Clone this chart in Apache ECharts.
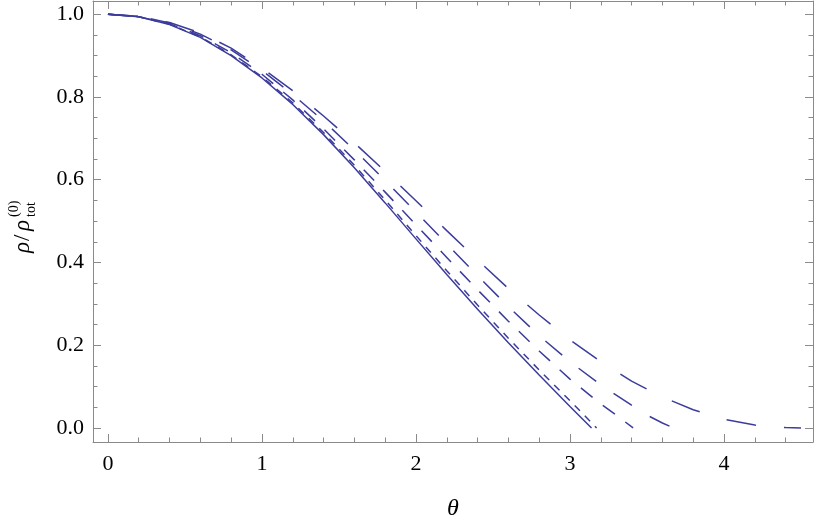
<!DOCTYPE html>
<html>
<head>
<meta charset="utf-8">
<script src="https://cdn.jsdelivr.net/npm/echarts@6/dist/echarts.min.js"></script>
<style>
html, body { margin: 0; padding: 0; background: #fff; }
#chart { width: 814px; height: 526px; }
</style>
</head>
<body>
<div id="chart"></div>
<script>
// values: theta -> rho / rho_tot^(0)
var thetaSolid = [0, 0.2, 0.4, 0.6, 0.8, 1.0, 1.2, 1.4, 1.6, 1.8, 2.0, 2.2, 2.4, 2.6, 2.8, 3.0, 3.14];
var rhoSolid   = [1.000, 0.994, 0.975, 0.944, 0.900, 0.846, 0.782, 0.709, 0.629, 0.544, 0.457, 0.371, 0.287, 0.206, 0.128, 0.052, 0.000];

var thetaDash1 = [0, 0.2, 0.4, 0.6, 0.8, 1.0, 1.2, 1.4, 1.6, 1.8, 2.0, 2.2, 2.4, 2.6, 2.8, 3.0, 3.173];
var rhoDash1   = [1.000, 0.994, 0.976, 0.945, 0.902, 0.849, 0.786, 0.714, 0.635, 0.551, 0.465, 0.380, 0.297, 0.217, 0.140, 0.066, 0.000];

var thetaDash2 = [0, 0.2, 0.4, 0.6, 0.8, 1.0, 1.2, 1.4, 1.6, 1.8, 2.0, 2.2, 2.4, 2.6, 2.8, 3.0, 3.2, 3.3, 3.41];
var rhoDash2   = [1.000, 0.994, 0.977, 0.948, 0.907, 0.855, 0.793, 0.723, 0.648, 0.570, 0.491, 0.412, 0.334, 0.258, 0.186, 0.118, 0.058, 0.031, 0.000];

var thetaDash3 = [0, 0.2, 0.4, 0.6, 0.8, 1.0, 1.2, 1.4, 1.6, 1.8, 2.0, 2.2, 2.4, 2.6, 2.8, 3.0, 3.2, 3.4, 3.5, 3.6, 3.66];
var rhoDash3   = [1.000, 0.995, 0.979, 0.952, 0.914, 0.864, 0.806, 0.742, 0.672, 0.598, 0.522, 0.445, 0.368, 0.293, 0.223, 0.160, 0.104, 0.055, 0.031, 0.012, 0.002];

var thetaDash4 = [0, 0.2, 0.4, 0.6, 0.8, 1.0, 1.2, 1.4, 1.6, 1.8, 2.0, 2.2, 2.4, 2.6, 2.8, 3.0, 3.2, 3.4, 3.6, 3.8, 4.0, 4.2, 4.4, 4.5];
var rhoDash4   = [1.000, 0.995, 0.980, 0.955, 0.918, 0.870, 0.815, 0.754, 0.689, 0.620, 0.549, 0.477, 0.406, 0.337, 0.273, 0.213, 0.160, 0.113, 0.075, 0.044, 0.021, 0.007, 0.001, 0.000];

var xMajor = [0, 1, 2, 3, 4];
var xMinor = [0.2, 0.4, 0.6, 0.8, 1.2, 1.4, 1.6, 1.8, 2.2, 2.4, 2.6, 2.8, 3.2, 3.4, 3.6, 3.8, 4.2, 4.4];
var yMajor = [0, 0.2, 0.4, 0.6, 0.8, 1.0];
var yMinor = [0.05, 0.1, 0.15, 0.25, 0.3, 0.35, 0.45, 0.5, 0.55, 0.65, 0.7, 0.75, 0.85, 0.9, 0.95];

var xMin = -0.097, xMax = 4.578;
var yMin = -0.034, yMax = 1.032;

var serif = '"Liberation Serif", "DejaVu Serif", serif';
var frameColor = '#8a8a8a';
var lineColor = '#3c3c9c';

function pairs(xs, ys) {
  return xs.map(function (x, i) { return [x, ys[i]]; });
}

// one frame side: ticks pointing inwards, optional labels
function axis(position, min, max, ticks, tickLen, showLine, labels, fmt, margin) {
  return {
    type: 'value',
    position: position,
    min: min,
    max: max,
    axisLine: { show: showLine, onZero: false, lineStyle: { color: frameColor, width: 1 } },
    axisTick: { show: true, inside: true, length: tickLen, customValues: ticks,
                lineStyle: { color: frameColor, width: 1 } },
    axisLabel: labels ? { show: true, customValues: labels, formatter: fmt, margin: margin,
                          color: '#000', fontFamily: serif, fontSize: 22 } : { show: false },
    splitLine: { show: false },
    minorTick: { show: false }
  };
}

function curve(xs, ys, dash) {
  return {
    type: 'line',
    xAxisIndex: 0,
    yAxisIndex: 0,
    data: pairs(xs, ys),
    showSymbol: false,
    smooth: false,
    lineStyle: { color: lineColor, width: 1.5, type: dash }
  };
}

var fmtX = function (v) { return String(Math.round(v)); };
var fmtY = function (v) { return v.toFixed(1); };

var xBottom = axis('bottom', xMin, xMax, xMajor, 8, true, xMajor, fmtX, 11);
xBottom.name = 'θ';
xBottom.nameLocation = 'middle';
xBottom.nameGap = 55;
xBottom.nameTextStyle = { fontFamily: serif, fontStyle: 'italic', fontSize: 24, color: '#000' };

var myChart = echarts.init(document.getElementById('chart'));
myChart.setOption({
  animation: false,
  grid: { left: 93, right: 1, top: 1, bottom: 82, containLabel: false },
  xAxis: [
    xBottom,
    axis('bottom', xMin, xMax, xMinor, 4.5, false),
    axis('top', xMin, xMax, xMajor, 8, true),
    axis('top', xMin, xMax, xMinor, 4.5, false)
  ],
  yAxis: [
    axis('left', yMin, yMax, yMajor, 8, true, yMajor, fmtY, 9),
    axis('left', yMin, yMax, yMinor, 4.5, false),
    axis('right', yMin, yMax, yMajor, 8, true),
    axis('right', yMin, yMax, yMinor, 4.5, false)
  ],
  series: [
    curve(thetaSolid, rhoSolid, 'solid'),
    curve(thetaDash1, rhoDash1, [7.5, 7]),
    curve(thetaDash2, rhoDash2, [15, 13]),
    curve(thetaDash3, rhoDash3, [22, 21]),
    curve(thetaDash4, rhoDash4, [30, 28])
  ],
  graphic: [{
    type: 'group',
    x: 31,
    y: 253,
    rotation: Math.PI / 2,
    children: [
      { type: 'text', x: 0, y: -8, style: { text: 'ρ', font: 'italic 23px ' + serif, fill: '#000', verticalAlign: 'middle' } },
      { type: 'text', x: 12, y: -8, style: { text: '/', font: '23px ' + serif, fill: '#000', verticalAlign: 'middle' } },
      { type: 'text', x: 22, y: -8, style: { text: 'ρ', font: 'italic 23px ' + serif, fill: '#000', verticalAlign: 'middle' } },
      { type: 'text', x: 36, y: 0, style: { text: 'tot', font: '14px ' + serif, fill: '#000', verticalAlign: 'middle' } },
      { type: 'text', x: 36, y: -17, style: { text: '(0)', font: '14px ' + serif, fill: '#000', verticalAlign: 'middle' } }
    ]
  }]
});
</script>
</body>
</html>
